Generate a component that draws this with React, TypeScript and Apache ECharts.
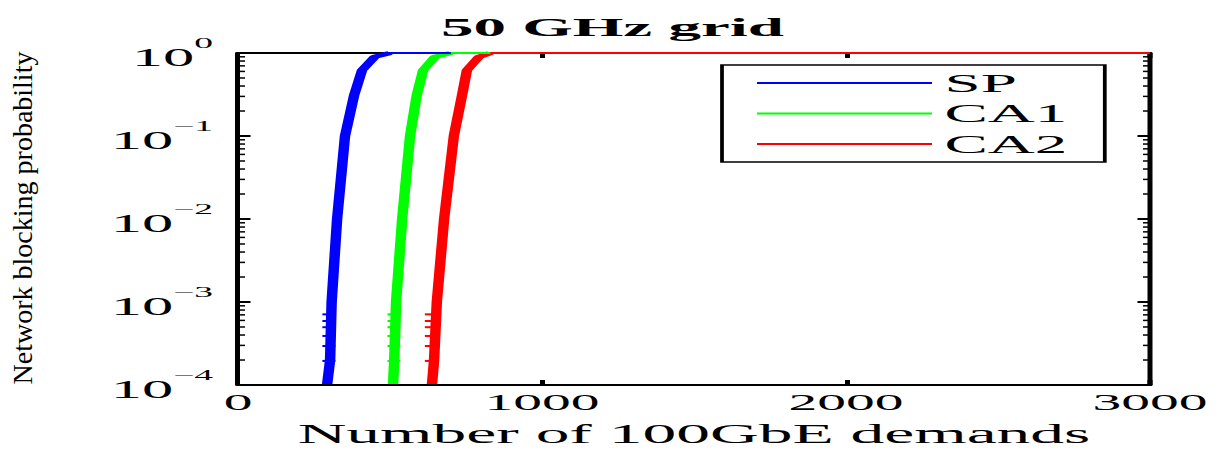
import React, { useEffect, useRef } from "react";
import * as echarts from "echarts";

// Data (x: number of 100GbE demands, y: blocking probability)
const spX = [293, 303, 308, 326, 352, 382, 408, 450, 500, 3000];
const spY = [1e-4, 2e-4, 1e-3, 1e-2, 1e-1, 0.31, 0.62, 0.9, 1, 1];
const ca1X = [510, 514, 520, 540, 566, 588, 609, 648, 700, 3000];
const ca1Y = [1e-4, 2e-4, 1e-3, 1e-2, 1e-1, 0.31, 0.62, 0.9, 1, 1];
const ca2X = [638, 645, 654, 678, 710, 737, 753, 793, 830, 3000];
const ca2Y = [1e-4, 2e-4, 1e-3, 1e-2, 1e-1, 0.31, 0.62, 0.9, 1, 1];

// Error-bar caps visible at low blocking probabilities (centre x per series, y levels)
const capCenters = [299, 513, 636];
const capLevels = [1e-4, 1.95e-4, 2.95e-4, 3.9e-4, 4.97e-4, 5.9e-4, 7.1e-4];

const seriesNames = ["SP", "CA1", "CA2"];
const seriesColors = ["#0000ff", "#00ff00", "#ff0000"];
const xTicks = [0, 1000, 2000, 3000];
const yMin = 1e-4;
const yMax = 1;
const minorTicks = [
  2e-4, 3e-4, 4e-4, 5e-4, 6e-4, 7e-4, 8e-4, 9e-4,
  2e-3, 3e-3, 4e-3, 5e-3, 6e-3, 7e-3, 8e-3, 9e-3,
  2e-2, 3e-2, 4e-2, 5e-2, 6e-2, 7e-2, 8e-2, 9e-2,
  2e-1, 3e-1, 4e-1, 5e-1, 6e-1, 7e-1, 8e-1, 9e-1,
];

const FONT = "'Liberation Serif', 'Times New Roman', serif";
const STRETCH = 2.5;
const W = 1225 / STRETCH;
const H = 452;

function split(xs: number[], ys: number[]) {
  const pts = xs.map((x, i) => [x, ys[i]]);
  const k = ys.indexOf(1);
  return { curve: pts.slice(0, k + 1), flat: pts.slice(k) };
}

export default function App() {
  const ref = useRef<HTMLDivElement>(null);
  useEffect(() => {
    if (!ref.current) return;
    const chart = echarts.init(ref.current, null, { renderer: "svg" });
    const sets = [split(spX, spY), split(ca1X, ca1Y), split(ca2X, ca2Y)];
    const xMin = xTicks[0];
    const xMax = xTicks[xTicks.length - 1];
    const series: any[] = [];
    sets.forEach((s, i) => {
      series.push({
        name: seriesNames[i],
        type: "line",
        data: s.curve,
        showSymbol: false,
        symbol: "none",
        lineStyle: { color: seriesColors[i], width: 4.2 },
        itemStyle: { color: seriesColors[i] },
        z: 3 + i,
      });
      series.push({
        type: "custom",
        clip: false,
        silent: true,
        z: 3 + i,
        data: capLevels.map((v) => [capCenters[i], v]),
        renderItem: (params: any, api: any) => {
          const p = api.coord([api.value(0), api.value(1)]);
          return {
            type: "line",
            shape: { x1: p[0] - 2.6, y1: p[1], x2: p[0] + 2.6, y2: p[1] },
            style: { stroke: seriesColors[i], lineWidth: 2 },
          };
        },
      });
    });
    sets.forEach((s, i) => {
      series.push({
        name: seriesNames[i],
        type: "line",
        data: s.flat,
        showSymbol: false,
        symbol: "none",
        clip: false,
        lineStyle: { color: seriesColors[i], width: 2 },
        itemStyle: { color: seriesColors[i] },
        z: 6 + i,
      });
    });
    series.push({
      type: "custom",
      clip: false,
      silent: true,
      data: minorTicks.map((v) => [xMin, v]),
      renderItem: (params: any, api: any) => {
        const v = api.value(1);
        const l = api.coord([xMin, v]);
        const r = api.coord([xMax, v]);
        return {
          type: "group",
          children: [
            { type: "line", shape: { x1: l[0], y1: l[1], x2: l[0] + 2.8, y2: l[1] }, style: { stroke: "#000", lineWidth: 1.5 } },
            { type: "line", shape: { x1: r[0] - 2.8, y1: r[1], x2: r[0], y2: r[1] }, style: { stroke: "#000", lineWidth: 1.5 } },
          ],
        };
      },
      z: 10,
    });

    const yFmt = (v: number) => {
      const e = Math.round(Math.log10(v));
      return `{b|10}{s|${e === 0 ? "0" : "\u2212" + -e}}`;
    };

    chart.setOption({
      animation: false,
      backgroundColor: "#fff",
      title: {
        text: "50 GHz grid",
        left: "center",
        top: 9,
        textStyle: { fontFamily: FONT, fontWeight: "bold", fontSize: 26, color: "#000" },
      },
      legend: {
        data: seriesNames,
        orient: "vertical",
        left: 288.8,
        top: 65,
        icon: "rect",
        itemWidth: 70,
        itemHeight: 2,
        itemGap: 0.5,
        padding: [3, 15, 3, 14],
        borderColor: "#000",
        borderWidth: 1.5,
        borderRadius: 0,
        backgroundColor: "#fff",
        textStyle: { fontFamily: FONT, fontSize: 26, lineHeight: 30, color: "#000" },
      },
      grid: { left: 95.2, right: W - 460, top: 53, bottom: 66, containLabel: false },
      xAxis: [
        {
          type: "value",
          min: xMin,
          max: xMax,
          interval: 1000,
          position: "bottom",
          name: "Number of 100GbE demands",
          nameLocation: "middle",
          nameGap: 35,
          nameTextStyle: { fontFamily: FONT, fontSize: 27, color: "#000" },
          axisLine: { show: true, onZero: false, lineStyle: { color: "#000", width: 2 } },
          axisTick: { show: true, inside: true, length: 5, lineStyle: { color: "#000", width: 2 } },
          axisLabel: { fontFamily: FONT, fontSize: 23, color: "#000", margin: 6, formatter: (v: number) => String(v) },
          splitLine: { show: false },
          z: 9,
        },
        {
          type: "value",
          min: xMin,
          max: xMax,
          interval: 1000,
          position: "top",
          axisLine: { show: true, onZero: false, lineStyle: { color: "#000", width: 2 } },
          axisTick: { show: true, inside: true, length: 5, lineStyle: { color: "#000", width: 2 } },
          axisLabel: { show: false },
          splitLine: { show: false },
        },
      ],
      yAxis: [
        {
          type: "log",
          logBase: 10,
          min: yMin,
          max: yMax,
          splitNumber: 4,
          position: "left",
          axisLine: { show: true, onZero: false, lineStyle: { color: "#000", width: 2 } },
          axisTick: { show: true, inside: true, length: 5, lineStyle: { color: "#000", width: 2 } },
          axisLabel: {
            formatter: yFmt,
            margin: 10,
            color: "#000",
            rich: {
              b: { fontFamily: FONT, fontSize: 25, color: "#000", lineHeight: 35, verticalAlign: "bottom" },
              s: { fontFamily: FONT, fontSize: 15, color: "#000", lineHeight: 35, verticalAlign: "top" },
            },
          },
          splitLine: { show: false },
          z: 9,
        },
        {
          type: "log",
          logBase: 10,
          min: yMin,
          max: yMax,
          splitNumber: 4,
          position: "right",
          axisLine: { show: true, onZero: false, lineStyle: { color: "#000", width: 2 } },
          axisTick: { show: true, inside: true, length: 5, lineStyle: { color: "#000", width: 2 } },
          axisLabel: { show: false },
          splitLine: { show: false },
        },
      ],
      graphic: [
        {
          type: "text",
          x: 8.8,
          y: 218,
          rotation: Math.PI / 2,
          scaleY: 1 / STRETCH,
          style: {
            text: "Network blocking probability",
            font: `28px ${FONT}`,
            fill: "#000",
            textAlign: "center",
            textVerticalAlign: "middle",
            align: "center",
            verticalAlign: "middle",
          },
        },
      ],
      series,
    });
    return () => chart.dispose();
  }, []);

  return (
    <div style={{ position: "absolute", left: 0, top: 0, width: 1225, height: H, overflow: "hidden", background: "#fff" }}>
      <div
        ref={ref}
        style={{ width: W, height: H, transform: `scaleX(${STRETCH})`, transformOrigin: "0 0" }}
      />
    </div>
  );
}
